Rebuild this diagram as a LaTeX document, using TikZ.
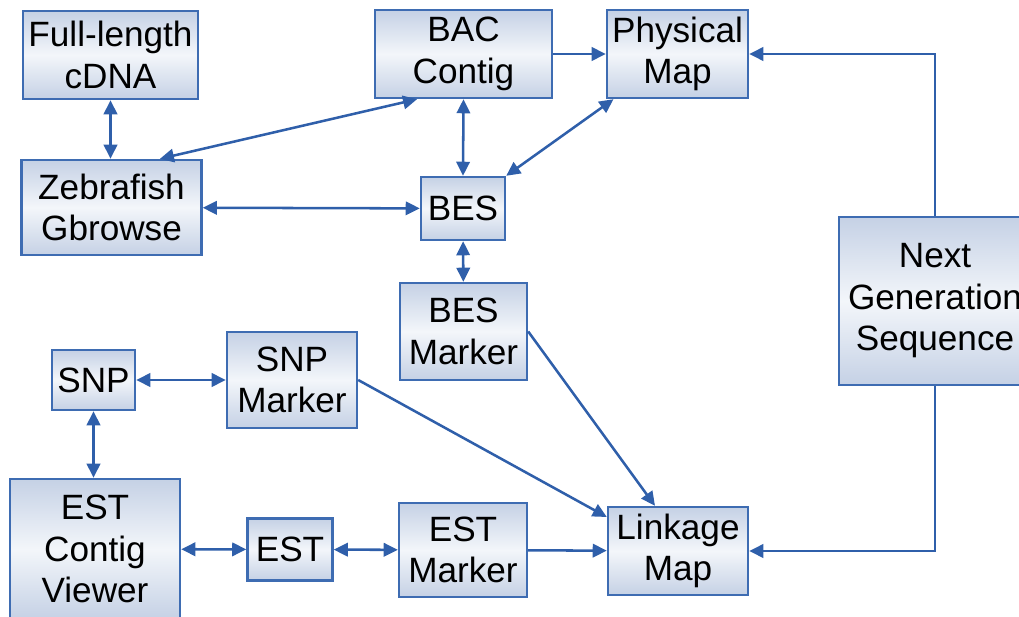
\documentclass[tikz,border=0pt]{standalone}
\usepackage{fontspec}
\setmainfont{Liberation Sans}
\usetikzlibrary{arrows.meta}
\definecolor{boxline}{RGB}{62,108,178}
\definecolor{boxtop}{RGB}{197,209,229}
\definecolor{boxmid}{RGB}{243,246,250}
\definecolor{linkcol}{RGB}{47,95,170}

\begin{document}
\def\boxh{2.2cm}

\begin{tikzpicture}[x=0.025cm, y=-0.025cm,
    >={Triangle[length=10pt, width=9.5pt]},
    box/.style={draw=boxline, line width=1.7pt, top color=boxtop, bottom color=boxtop, middle color=boxmid,
        align=center, inner sep=0pt, font=\fontsize{25}{29.5}\selectfont},
    conn/.style={draw=linkcol, line width=1.8pt}]
    \useasboundingbox (0,0) rectangle (1019,617);

    \node[box, minimum width=4.375cm, minimum height=\boxh] (cdna) at (110.5,55) {Full-length\\cDNA};
    \node[box, minimum width=4.425cm, minimum height=\boxh] (bac) at (463.5,54) {BAC\\Contig};
    \node[box, minimum width=3.525cm, minimum height=\boxh] (phys) at (677.5,54) {Physical\\Map};
    \node[box, minimum width=4.5cm, minimum height=2.375cm] (zeb) at (111.5,207.5) {Zebrafish\\Gbrowse};
    \node[box, minimum width=2.1cm, minimum height=1.575cm] (bes) at (463,208.5) {BES};
    \node[box, minimum width=4.8cm, minimum height=4.2cm] (ngs) at (935,301) {Next\\Generation\\Sequence};
    \node[box, minimum width=3.175cm, minimum height=2.425cm] (besm) at (463.5,331.5) {BES\\Marker};
    \node[box, minimum width=2.075cm, minimum height=1.5cm] (snp) at (93.5,380) {SNP};
    \node[box, minimum width=3.25cm, minimum height=2.4cm] (snpm) at (292,380) {SNP\\Marker};
    \node[box, minimum width=4.25cm, minimum height=3.5cm] (ecv) at (95,549) {EST\\Contig\\Viewer};
    \node[box, minimum width=2.125cm, minimum height=1.55cm] (est) at (290,549.5) {EST};
    \node[box, minimum width=3.2cm, minimum height=2.35cm] (estm) at (463,550) {EST\\Marker};
    \node[box, minimum width=3.5cm, minimum height=\boxh] (link) at (678,551) {Linkage\\Map};

    \draw[conn, <->] (cdna.south) -- (cdna.south |- zeb.north);
    \draw[conn, <->] ([xshift=1.21cm]zeb.north) -- ([xshift=-1.16cm]bac.south);
    \draw[conn, ->] (bac) -- (phys);
    \draw[conn, <->] (bac.south) -- (bes.north);
    \draw[conn, <->] ([xshift=-1.6cm]phys.south) -- (bes.north east);
    \draw[conn, <->] (zeb) -- (bes);
    \draw[conn, <->] (bes) -- (besm);
    \draw[conn, ->] (besm.east) -- ([xshift=-0.575cm]link.north);
    \draw[conn, ->] (snpm.east) -- ([yshift=0.85cm]link.west);
    \draw[conn, <->] (snp) -- (snpm);
    \draw[conn, <->] (snp.south) -- (snp.south |- ecv.north);
    \draw[conn, <->] (ecv) -- (est);
    \draw[conn, <->] (est) -- (estm);
    \draw[conn, ->] (estm) -- (link);
    \draw[conn, ->] (ngs.north) |- (phys.east);
    \draw[conn, ->] (ngs.south) |- (link.east);
\end{tikzpicture}
\end{document}
